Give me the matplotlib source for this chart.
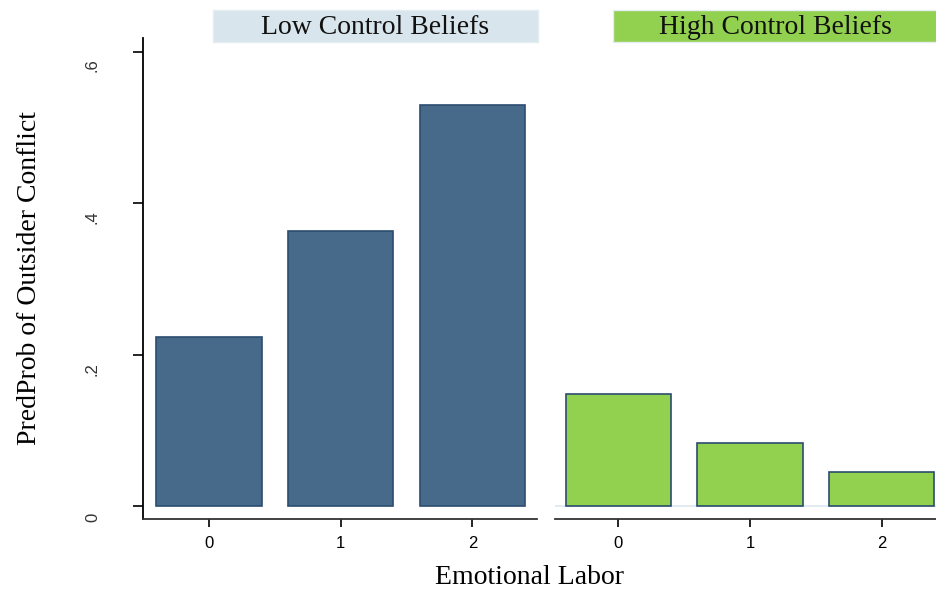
import matplotlib.pyplot as plt
from matplotlib.patches import Rectangle
from matplotlib.transforms import ScaledTranslation

labor = [0, 1, 2]
low_vals = [0.223, 0.363, 0.529]
high_vals = [0.148, 0.083, 0.045]
yticks = [0, 0.2, 0.4, 0.6]
ytick_labels = ["0", ".2", ".4", ".6"]

W, H = 937, 590
fig = plt.figure(figsize=(W / 100, H / 100), dpi=100)

def px(x0, y0, x1, y1):
    return [x0 / W, 1 - y1 / H, (x1 - x0) / W, (y1 - y0) / H]

axL = fig.add_axes(px(143, 38, 537, 519))
axR = fig.add_axes(px(555, 38, 937, 519))

blue = "#476a8a"
green = "#92d050"
edge = "#2b4d6f"

axL.bar(labor, low_vals, width=0.8, color=blue, edgecolor=edge, linewidth=1.2)
axR.bar(labor, high_vals, width=0.8, color=green, edgecolor=edge, linewidth=1.2)
axR.axhline(0, color="#dce8ef", linewidth=1.2, zorder=0)

for ax in (axL, axR):
    ax.set_ylim(-0.017, 0.618)
    ax.set_xticks(labor)
    ax.set_xticklabels([str(v) for v in labor], fontsize=12, family="Liberation Sans")
    ax.tick_params(axis="x", length=6, width=1.2, pad=6)
    for s in ("top", "right"):
        ax.spines[s].set_visible(False)
    ax.spines["bottom"].set_linewidth(1.3)
    ax.spines["bottom"].set_color("#333333")

axL.set_xlim(-0.5, 2.49)
axR.set_xlim(-0.48, 2.42)

axL.set_yticks(yticks)
axL.set_yticklabels(ytick_labels, rotation=90, va="top", fontsize=12,
                    family="Liberation Sans", color="#333333")
axL.tick_params(axis="y", length=7, width=1.2, pad=24)
shift = ScaledTranslation(0, -7 / 100, fig.dpi_scale_trans)
for t in axL.get_yticklabels():
    t.set_transform(t.get_transform() + shift)
axL.spines["left"].set_linewidth(1.3)

axR.spines["left"].set_visible(False)
axR.set_yticks([])

# panel strips
for x0, x1, lab, col in [(213, 538, "Low Control Beliefs", "#d9e5ec"),
                         (613, 937, "High Control Beliefs", green)]:
    fig.patches.append(Rectangle((x0 / W, 1 - 42 / H), (x1 - x0) / W, 32 / H,
                                 transform=fig.transFigure, facecolor=col,
                                 edgecolor="#e4edf2", linewidth=1))
    fig.text((x0 + x1) / 2 / W, 1 - 27 / H, lab, ha="center", va="center",
             fontsize=20, family="Liberation Serif", color="#111111")

fig.text(30 / W, 1 - 278 / H, "PredProb of Outsider Conflict", rotation=90,
         ha="center", va="center", fontsize=20, family="Liberation Serif")
fig.text(530 / W, 1 - 577 / H, "Emotional Labor", ha="center", va="center",
         fontsize=20, family="Liberation Serif")

fig.savefig("out.png", dpi=100)
